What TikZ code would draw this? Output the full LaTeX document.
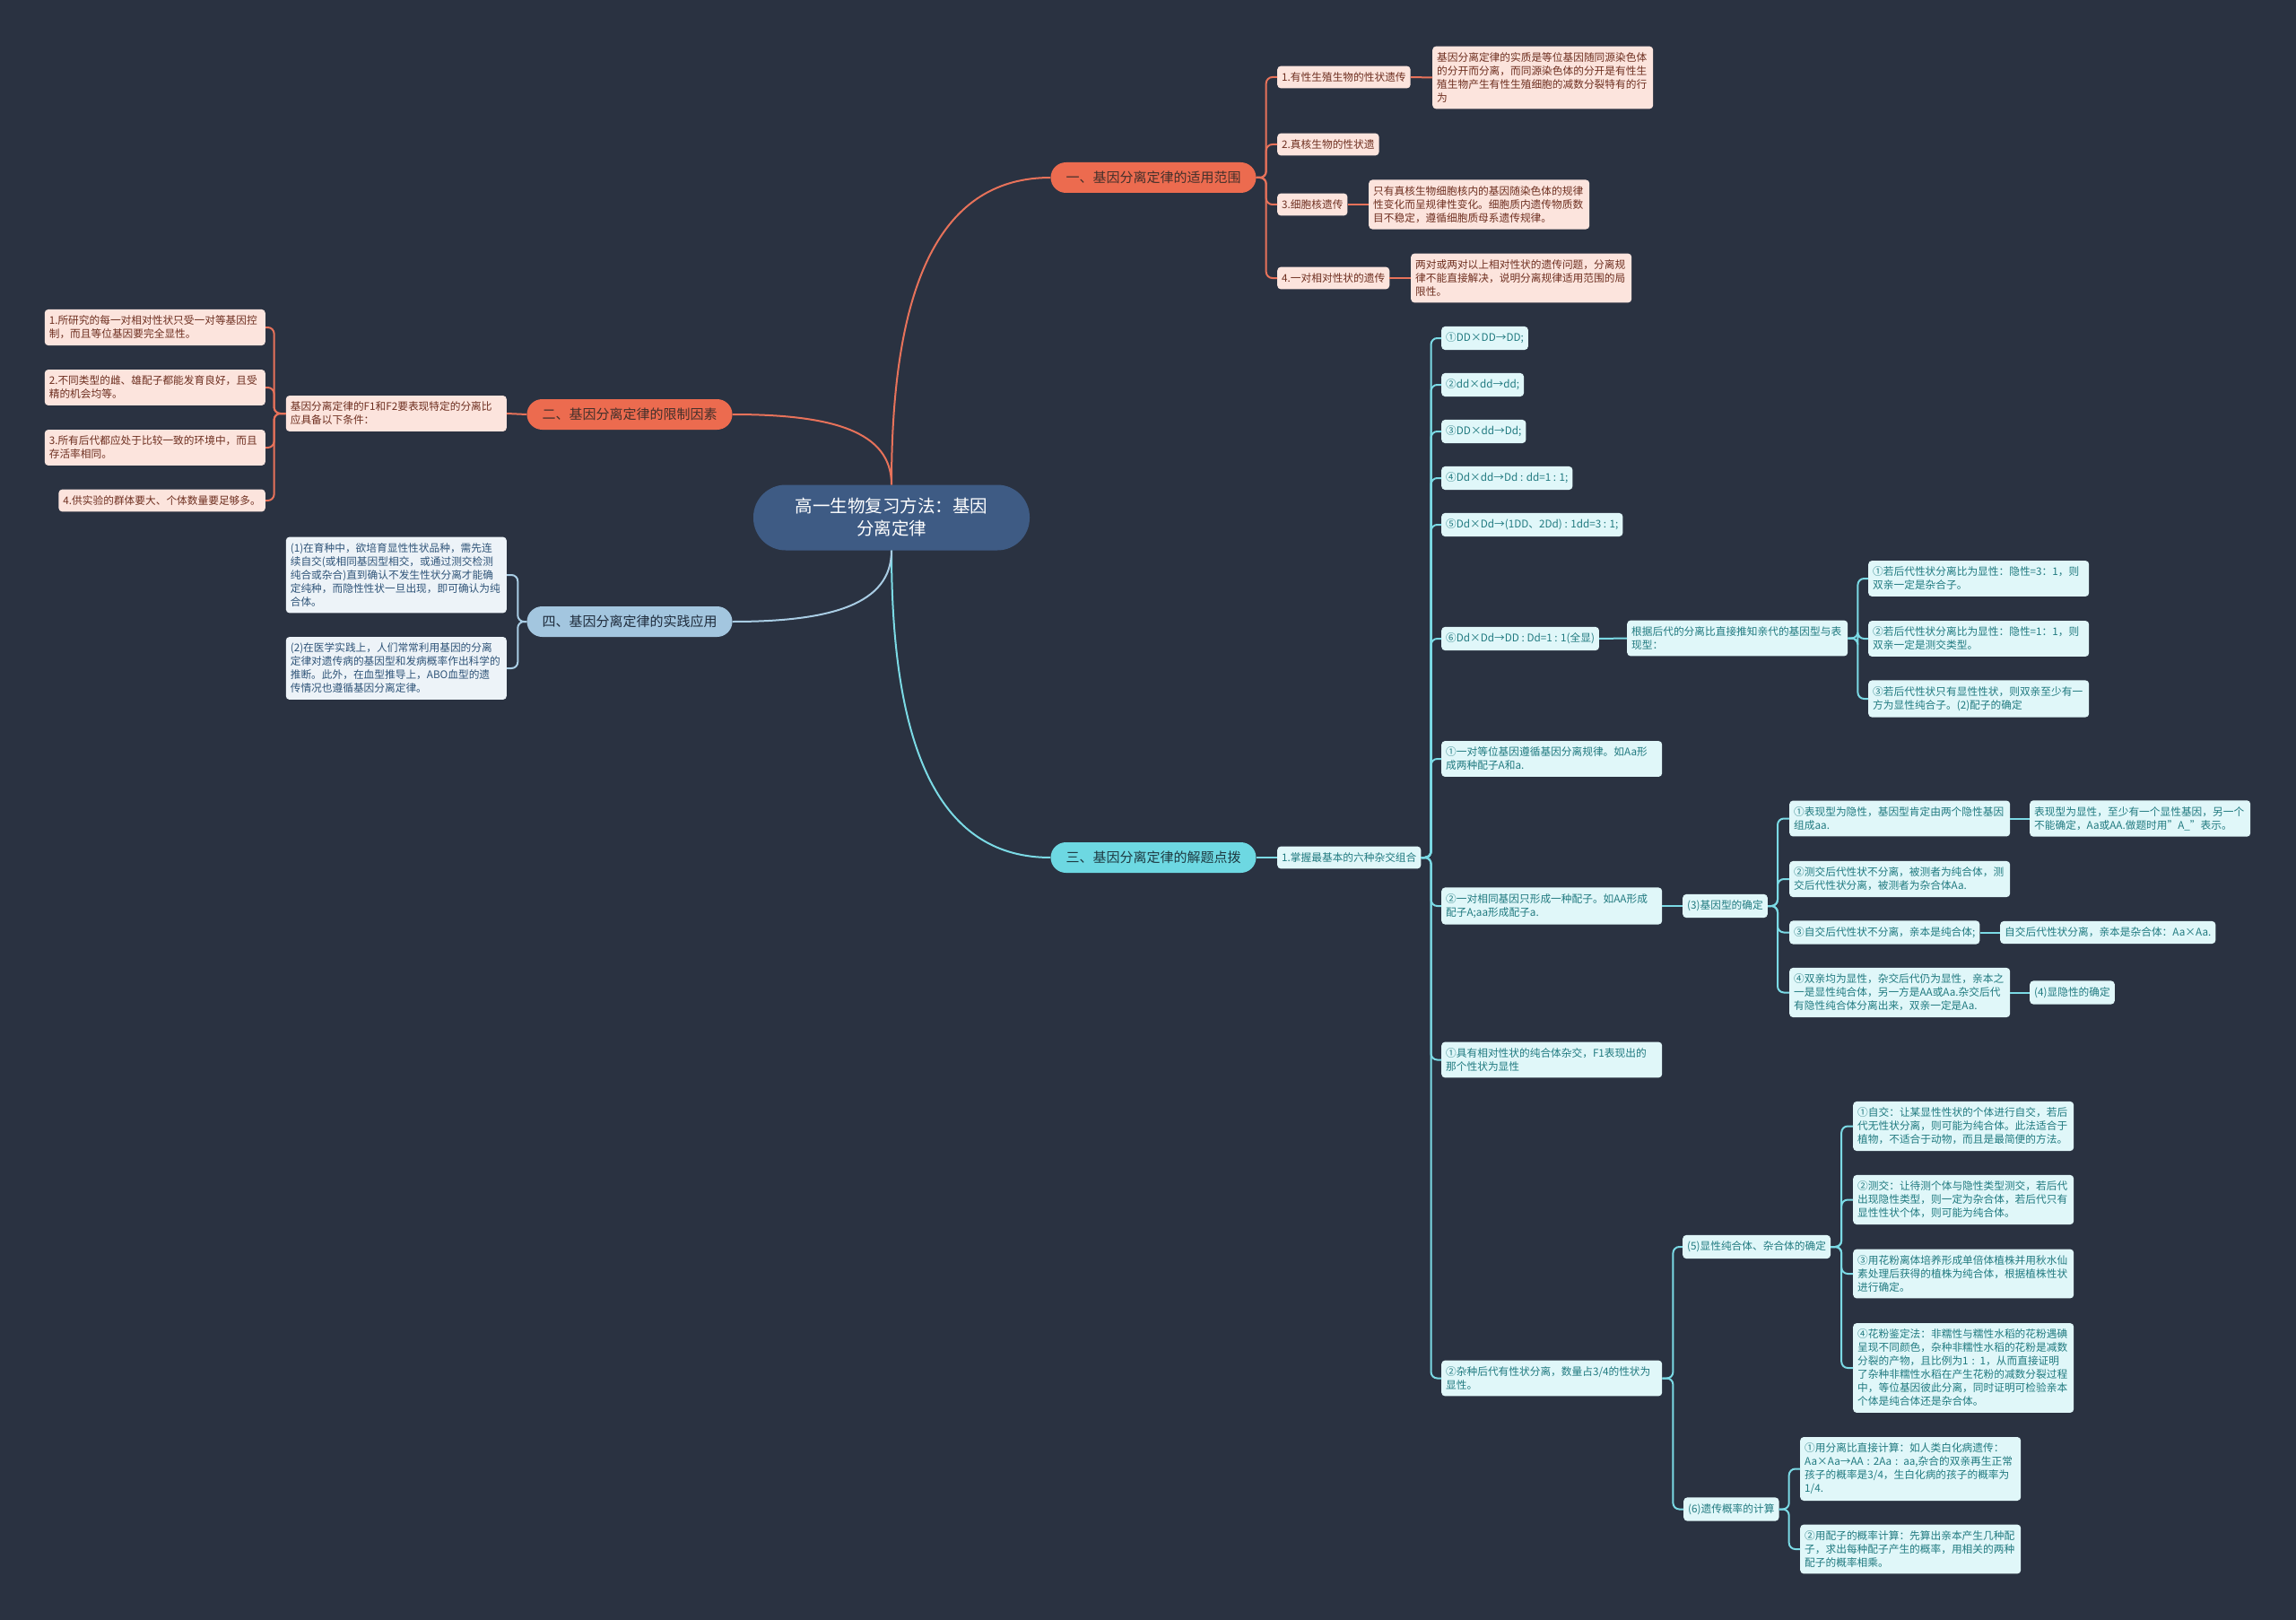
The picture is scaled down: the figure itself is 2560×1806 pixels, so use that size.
\documentclass[tikz,border=0pt]{standalone}
\usepackage{fontspec}
\setmainfont{Noto Sans CJK SC}
\usetikzlibrary{positioning}
\definecolor{bgdark}{HTML}{2A3241}
\definecolor{rootfill}{HTML}{3E5B84}
\definecolor{orangefill}{HTML}{EC6B4F}
\definecolor{orangedark}{HTML}{43302B}
\definecolor{orangeleaf}{HTML}{FCE4DD}
\definecolor{orangetext}{HTML}{6E2F20}
\definecolor{orangeline}{HTML}{E7725A}
\definecolor{bluefill}{HTML}{A3C6DF}
\definecolor{bluedark}{HTML}{1F2C3C}
\definecolor{blueleaf}{HTML}{EDF3F8}
\definecolor{bluetext}{HTML}{2F5478}
\definecolor{blueline}{HTML}{A9CDE4}
\definecolor{cyanfill}{HTML}{6DD8E2}
\definecolor{cyandark}{HTML}{1E3A42}
\definecolor{cyanleaf}{HTML}{E0F7F9}
\definecolor{cyantext}{HTML}{217A80}
\definecolor{cyanline}{HTML}{7BDAE5}

\begin{document}
\begin{tikzpicture}[
    x=1pt, y=1pt,
    rootnode/.style={rectangle, rounded corners=36pt, fill=rootfill, text=white, minimum width=308pt, minimum height=73pt, align=center, font=\fontsize{19.5}{25}\selectfont},
    branch/.style={rectangle, rounded corners=17pt, minimum height=34pt, inner xsep=17pt, font=\fontsize{15}{18}\selectfont},
    brorange/.style={branch, fill=orangefill, text=orangedark},
    brblue/.style={branch, fill=bluefill, text=bluedark},
    brcyan/.style={branch, fill=cyanfill, text=cyandark},
    leaf/.style={rectangle, rounded corners=4pt, inner xsep=5pt, inner ysep=7pt, align=left, font=\fontsize{11.7}{15}\selectfont},
    lforange/.style={leaf, fill=orangeleaf, text=orangetext},
    lfblue/.style={leaf, fill=blueleaf, text=bluetext},
    lfcyan/.style={leaf, fill=cyanleaf, text=cyantext},
    wide/.style={text width=236pt},
    lorange/.style={draw=orangeline, line width=2pt, rounded corners=7pt},
    lblue/.style={draw=blueline, line width=2pt, rounded corners=7pt},
    lcyan/.style={draw=cyanline, line width=2pt, rounded corners=7pt}
]
    \fill[bgdark] (0,0) rectangle (2560,-1806);
    \useasboundingbox (0,0) rectangle (2560,-1806);

    \node[rootnode] (root) at (994,-577) {高一生物复习方法：基因\\分离定律};

    \node[brorange] (b1) at (1286,-198) {一、基因分离定律的适用范围};
    \node[brorange] (b2) at (702,-462) {二、基因分离定律的限制因素};
    \node[brcyan] (b3) at (1286,-956) {三、基因分离定律的解题点拨};
    \node[brblue] (b4) at (702,-693) {四、基因分离定律的实践应用};

    \draw[lorange] (root.north) .. controls +(0,230) and +(-120,0) .. (b1.west);
    \draw[lorange] (root.north) .. controls +(0,60) and +(110,0) .. (b2.east);
    \draw[lcyan] (root.south) .. controls +(0,-230) and +(-120,0) .. (b3.west);
    \draw[lblue] (root.south) .. controls +(0,-60) and +(110,0) .. (b4.east);

    \node[lforange, anchor=west] (a1) at (1424,-86) {1.有性生殖生物的性状遗传};
    \node[lforange, anchor=west] (a2) at (1424,-161) {2.真核生物的性状遗};
    \node[lforange, anchor=west] (a3) at (1424,-228) {3.细胞核遗传};
    \node[lforange, anchor=west] (a4) at (1424,-310) {4.一对相对性状的遗传};
    \node[lforange, wide, anchor=west] (a1d) at (1597,-86.5) {基因分离定律的实质是等位基因随同源染色体\\的分开而分离，而同源染色体的分开是有性生\\殖生物产生有性生殖细胞的减数分裂特有的行\\为};
    \node[lforange, wide, anchor=west] (a3d) at (1526,-228) {只有真核生物细胞核内的基因随染色体的规律\\性变化而呈规律性变化。细胞质内遗传物质数\\目不稳定，遵循细胞质母系遗传规律。};
    \node[lforange, wide, anchor=west] (a4d) at (1573,-310) {两对或两对以上相对性状的遗传问题，分离规\\律不能直接解决，说明分离规律适用范围的局\\限性。};

    \draw[lorange] (b1.east) -- ++(11,0) |- (a1.west);
    \draw[lorange] (b1.east) -- ++(11,0) |- (a2.west);
    \draw[lorange] (b1.east) -- ++(11,0) |- (a3.west);
    \draw[lorange] (b1.east) -- ++(11,0) |- (a4.west);
    \draw[lorange] (a1.east) -- (a1d.west);
    \draw[lorange] (a3.east) -- (a3d.west);
    \draw[lorange] (a4.east) -- (a4d.west);

    \node[lforange, wide, anchor=east] (c0) at (565,-461) {基因分离定律的F1和F2要表现特定的分离比\\应具备以下条件：};
    \node[lforange, wide, anchor=east] (c1) at (296,-365) {1.所研究的每一对相对性状只受一对等基因控\\制，而且等位基因要完全显性。};
    \node[lforange, wide, anchor=east] (c2) at (296,-432) {2.不同类型的雌、雄配子都能发育良好，且受\\精的机会均等。};
    \node[lforange, wide, anchor=east] (c3) at (296,-499) {3.所有后代都应处于比较一致的环境中，而且\\存活率相同。};
    \node[lforange, anchor=east] (c4) at (296,-558) {4.供实验的群体要大、个体数量要足够多。};

    \draw[lorange] (b2.west) -- (c0.east);
    \draw[lorange] (c0.west) -- ++(-13,0) |- (c1.east);
    \draw[lorange] (c0.west) -- ++(-13,0) |- (c2.east);
    \draw[lorange] (c0.west) -- ++(-13,0) |- (c3.east);
    \draw[lorange] (c0.west) -- ++(-13,0) |- (c4.east);

    \node[lfblue, wide, anchor=east] (d1) at (565,-641) {(1)在育种中，欲培育显性性状品种，需先连\\续自交(或相同基因型相交，或通过测交检测\\纯合或杂合)直到确认不发生性状分离才能确\\定纯种，而隐性性状一旦出现，即可确认为纯\\合体。};
    \node[lfblue, wide, anchor=east] (d2) at (565,-745) {(2)在医学实践上，人们常常利用基因的分离\\定律对遗传病的基因型和发病概率作出科学的\\推断。此外，在血型推导上，ABO血型的遗\\传情况也遵循基因分离定律。};

    \draw[lblue] (b4.west) -- ++(-10,0) |- (d1.east);
    \draw[lblue] (b4.west) -- ++(-10,0) |- (d2.east);

    \node[lfcyan, anchor=west] (e) at (1424,-956) {1.掌握最基本的六种杂交组合};
    \draw[lcyan] (b3.east) -- (e.west);

    \node[lfcyan, anchor=west] (f1) at (1607,-377) {①DD×DD→DD;};
    \node[lfcyan, anchor=west] (f2) at (1607,-429) {②dd×dd→dd;};
    \node[lfcyan, anchor=west] (f3) at (1607,-481) {③DD×dd→Dd;};
    \node[lfcyan, anchor=west] (f4) at (1607,-533) {④Dd×dd→Dd : dd=1 : 1;};
    \node[lfcyan, anchor=west] (f5) at (1607,-585) {⑤Dd×Dd→(1DD、2Dd) : 1dd=3 : 1;};
    \node[lfcyan, anchor=west] (f6) at (1607,-712) {⑥Dd×Dd→DD : Dd=1 : 1(全显)};
    \node[lfcyan, wide, anchor=west] (f7) at (1607,-846) {①一对等位基因遵循基因分离规律。如Aa形\\成两种配子A和a.};
    \node[lfcyan, wide, anchor=west] (f8) at (1607,-1010) {②一对相同基因只形成一种配子。如AA形成\\配子A;aa形成配子a.};
    \node[lfcyan, wide, anchor=west] (f9) at (1607,-1181.5) {①具有相对性状的纯合体杂交，F1表现出的\\那个性状为显性};
    \node[lfcyan, wide, anchor=west] (f10) at (1607,-1536.5) {②杂种后代有性状分离，数量占3/4的性状为\\显性。};

    \draw[lcyan] (e.east) -- ++(11,0) |- (f1.west);
    \draw[lcyan] (e.east) -- ++(11,0) |- (f2.west);
    \draw[lcyan] (e.east) -- ++(11,0) |- (f3.west);
    \draw[lcyan] (e.east) -- ++(11,0) |- (f4.west);
    \draw[lcyan] (e.east) -- ++(11,0) |- (f5.west);
    \draw[lcyan] (e.east) -- ++(11,0) |- (f6.west);
    \draw[lcyan] (e.east) -- ++(11,0) |- (f7.west);
    \draw[lcyan] (e.east) -- ++(11,0) |- (f8.west);
    \draw[lcyan] (e.east) -- ++(11,0) |- (f9.west);
    \draw[lcyan] (e.east) -- ++(11,0) |- (f10.west);

    \node[lfcyan, wide, anchor=west] (g) at (1814,-711.5) {根据后代的分离比直接推知亲代的基因型与表\\现型：};
    \node[lfcyan, wide, anchor=west] (g1) at (2083,-645) {①若后代性状分离比为显性：隐性=3：1，则\\双亲一定是杂合子。};
    \node[lfcyan, wide, anchor=west] (g2) at (2083,-712) {②若后代性状分离比为显性：隐性=1：1，则\\双亲一定是测交类型。};
    \node[lfcyan, wide, anchor=west] (g3) at (2083,-779) {③若后代性状只有显性性状，则双亲至少有一\\方为显性纯合子。(2)配子的确定};

    \draw[lcyan] (f6.east) -- (g.west);
    \draw[lcyan] (g.east) -- ++(11,0) |- (g1.west);
    \draw[lcyan] (g.east) -- ++(11,0) |- (g2.west);
    \draw[lcyan] (g.east) -- ++(11,0) |- (g3.west);

    \node[lfcyan, anchor=west] (h) at (1876,-1010) {(3)基因型的确定};
    \node[lfcyan, wide, anchor=west] (h1) at (1995,-912.5) {①表现型为隐性，基因型肯定由两个隐性基因\\组成aa.};
    \node[lfcyan, wide, anchor=west] (h2) at (1995,-980) {②测交后代性状不分离，被测者为纯合体，测\\交后代性状分离，被测者为杂合体Aa.};
    \node[lfcyan, anchor=west] (h3) at (1995,-1039.5) {③自交后代性状不分离，亲本是纯合体;};
    \node[lfcyan, wide, anchor=west] (h4) at (1995,-1106.5) {④双亲均为显性，杂交后代仍为显性，亲本之\\一是显性纯合体，另一方是AA或Aa.杂交后代\\有隐性纯合体分离出来，双亲一定是Aa.};
    \node[lfcyan, wide, anchor=west] (h1d) at (2263,-912.5) {表现型为显性，至少有一个显性基因，另一个\\不能确定，Aa或AA.做题时用"A\_"表示。};
    \node[lfcyan, anchor=west] (h3d) at (2230,-1039.5) {自交后代性状分离，亲本是杂合体：Aa×Aa.};
    \node[lfcyan, anchor=west] (h4d) at (2263,-1106.5) {(4)显隐性的确定};

    \draw[lcyan] (f8.east) -- (h.west);
    \draw[lcyan] (h.east) -- ++(11,0) |- (h1.west);
    \draw[lcyan] (h.east) -- ++(11,0) |- (h2.west);
    \draw[lcyan] (h.east) -- ++(11,0) |- (h3.west);
    \draw[lcyan] (h.east) -- ++(11,0) |- (h4.west);
    \draw[lcyan] (h1.east) -- (h1d.west);
    \draw[lcyan] (h3.east) -- (h3d.west);
    \draw[lcyan] (h4.east) -- (h4d.west);

    \node[lfcyan, anchor=west] (i5) at (1876,-1390) {(5)显性纯合体、杂合体的确定};
    \node[lfcyan, anchor=west] (i6) at (1877,-1682.5) {(6)遗传概率的计算};
    \node[lfcyan, wide, anchor=west] (i51) at (2066,-1255.5) {①自交：让某显性性状的个体进行自交，若后\\代无性状分离，则可能为纯合体。此法适合于\\植物，不适合于动物，而且是最简便的方法。};
    \node[lfcyan, wide, anchor=west] (i52) at (2066,-1337.5) {②测交：让待测个体与隐性类型测交，若后代\\出现隐性类型，则一定为杂合体，若后代只有\\显性性状个体，则可能为纯合体。};
    \node[lfcyan, wide, anchor=west] (i53) at (2066,-1420) {③用花粉离体培养形成单倍体植株并用秋水仙\\素处理后获得的植株为纯合体，根据植株性状\\进行确定。};
    \node[lfcyan, wide, anchor=west] (i54) at (2066,-1525) {④花粉鉴定法：非糯性与糯性水稻的花粉遇碘\\呈现不同颜色，杂种非糯性水稻的花粉是减数\\分裂的产物，且比例为1 : 1，从而直接证明\\了杂种非糯性水稻在产生花粉的减数分裂过程\\中，等位基因彼此分离，同时证明可检验亲本\\个体是纯合体还是杂合体。};
    \node[lfcyan, wide, anchor=west] (i61) at (2007,-1637.5) {①用分离比直接计算：如人类白化病遗传：\\Aa×Aa→AA : 2Aa : aa,杂合的双亲再生正常\\孩子的概率是3/4，生白化病的孩子的概率为\\1/4.};
    \node[lfcyan, wide, anchor=west] (i62) at (2007,-1727) {②用配子的概率计算：先算出亲本产生几种配\\子，求出每种配子产生的概率，用相关的两种\\配子的概率相乘。};

    \draw[lcyan] (f10.east) -- ++(12,0) |- (i5.west);
    \draw[lcyan] (f10.east) -- ++(12,0) |- (i6.west);
    \draw[lcyan] (i5.east) -- ++(12,0) |- (i51.west);
    \draw[lcyan] (i5.east) -- ++(12,0) |- (i52.west);
    \draw[lcyan] (i5.east) -- ++(12,0) |- (i53.west);
    \draw[lcyan] (i5.east) -- ++(12,0) |- (i54.west);
    \draw[lcyan] (i6.east) -- ++(11,0) |- (i61.west);
    \draw[lcyan] (i6.east) -- ++(11,0) |- (i62.west);
\end{tikzpicture}
\end{document}
